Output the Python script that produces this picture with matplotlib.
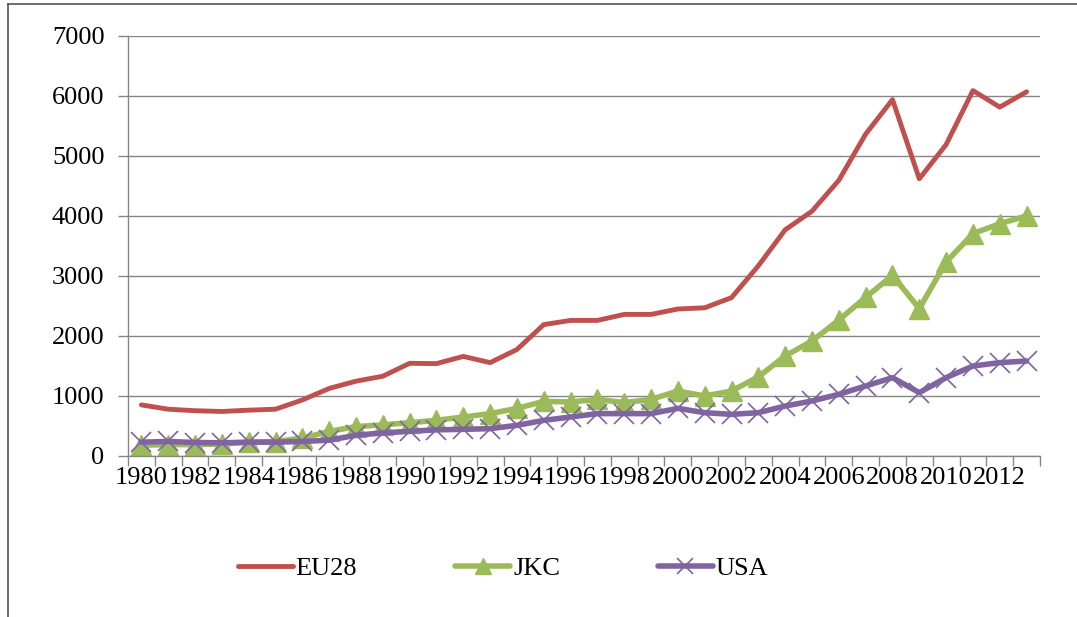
import matplotlib.pyplot as plt
from matplotlib.lines import Line2D

years = list(range(1980, 2014))
tick_labels = [str(y) if (y - 1980) % 2 == 0 else "" for y in years]

eu28 = [852, 780, 755, 742, 764, 780, 934, 1126, 1247, 1330, 1545, 1540,
        1660, 1556, 1775, 2190, 2260, 2260, 2360, 2360, 2450, 2470, 2640, 3170,
        3770, 4080, 4595, 5365, 5940, 4620, 5190, 6090, 5815, 6070]
jkc = [180, 190, 190, 200, 230, 240, 300, 410, 490, 520, 555, 595,
       650, 706, 794, 910, 900, 944, 889, 944, 1083, 1000, 1083, 1320,
       1667, 1917, 2267, 2644, 3011, 2456, 3233, 3706, 3872, 4000]
usa = [231, 242, 225, 220, 231, 231, 242, 264, 346, 385, 412, 436,
       444, 456, 511, 594, 650, 706, 706, 706, 794, 722, 694, 722,
       833, 917, 1028, 1167, 1306, 1056, 1306, 1500, 1556, 1583]

c_eu = "#C0504D"
c_jkc = "#9BBB59"
c_usa = "#8064A2"
grid_c = "#868686"

plt.rcParams["font.family"] = ["Liberation Serif", "DejaVu Serif"]
fs = 19

fig = plt.figure(figsize=(10.77, 6.17), dpi=100)
ax = fig.add_axes([128 / 1077, 1 - 456 / 617, (1040 - 128) / 1077, 420 / 617])

x = list(range(len(years)))
ax.plot(x, eu28, color=c_eu, lw=3.5, label="EU28", solid_capstyle="round",
        solid_joinstyle="round")
ax.plot(x, jkc, color=c_jkc, lw=4.0, marker="^", ms=15, mec=c_jkc, mfc=c_jkc,
        label="JKC", solid_capstyle="round", solid_joinstyle="round")
ax.plot(x, usa, color=c_usa, lw=4.0, marker="x", ms=14, mew=1.2, mec=c_usa,
        label="USA", solid_capstyle="round", solid_joinstyle="round")

ax.set_xlim(-0.5, len(years) - 0.5)
ax.set_ylim(0, 7000)
ax.set_yticks(range(0, 7001, 1000))
ax.yaxis.grid(True, color=grid_c, lw=1)
ax.set_axisbelow(True)

ax.set_xticks(x)
ax.set_xticklabels(tick_labels, fontsize=fs)
ax.set_xticks([i - 0.5 for i in range(len(years) + 1)], minor=True)
ax.tick_params(axis="x", which="major", length=0, pad=8)
ax.tick_params(axis="x", which="minor", length=7, color=grid_c, width=1)
ax.tick_params(axis="y", labelsize=fs, length=7, color=grid_c, width=1, pad=10)

for s in ["top", "right"]:
    ax.spines[s].set_visible(False)
for s in ["left", "bottom"]:
    ax.spines[s].set_color(grid_c)
    ax.spines[s].set_linewidth(1)

handles = [
    Line2D([], [], color=c_eu, lw=3.5, solid_capstyle="round"),
    Line2D([], [], color=c_jkc, lw=4.0, marker="^", ms=11, solid_capstyle="round"),
    Line2D([], [], color=c_usa, lw=4.0, marker="x", ms=11, mew=1.2, solid_capstyle="round"),
]
fig.legend(handles, ["EU28", "JKC", "USA"], loc="center", ncol=3,
           bbox_to_anchor=(503 / 1077, 1 - 568 / 617), frameon=False, fontsize=fs,
           handlelength=2.1, handletextpad=0.1, columnspacing=3.7)

# outer frame (left and top edges only visible)
fig.add_artist(Line2D([8 / 1077, 8 / 1077], [0, 1 - 4 / 617], color="#555555",
                      lw=1.2, transform=fig.transFigure))
fig.add_artist(Line2D([8 / 1077, 1], [1 - 4 / 617, 1 - 4 / 617], color="#555555",
                      lw=1.2, transform=fig.transFigure))

fig.savefig("out.png", dpi=100)
